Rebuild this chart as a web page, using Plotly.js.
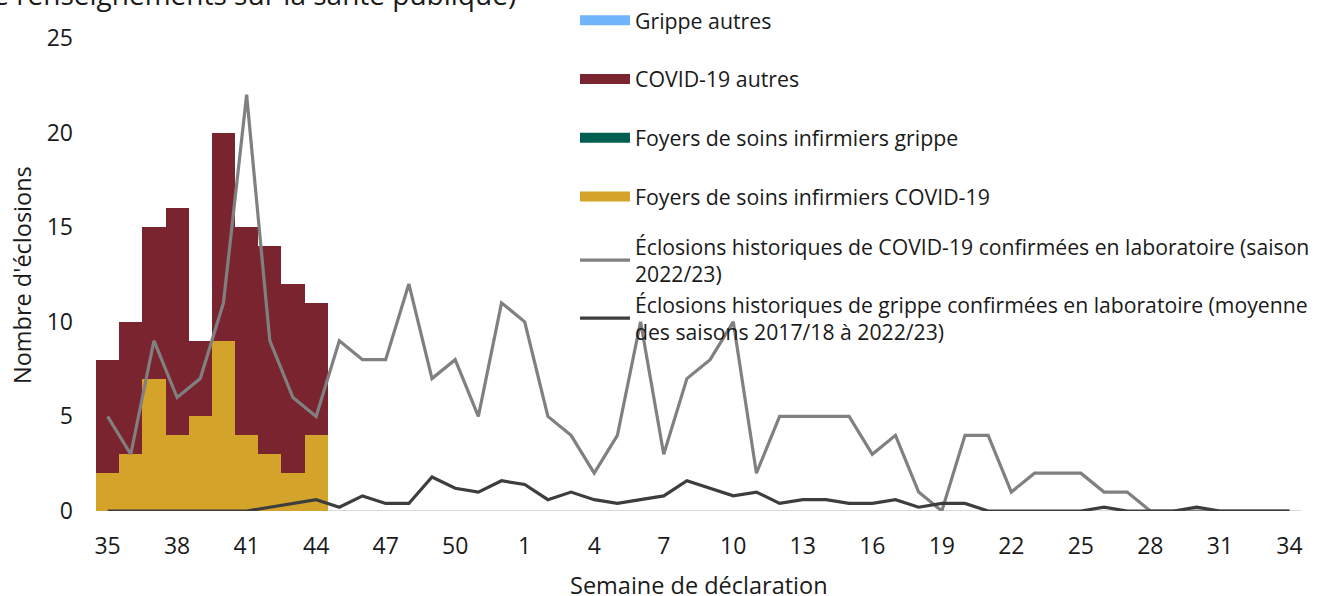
<!DOCTYPE html>
<html>
<head>
<meta charset="utf-8">
<script src="https://cdn.plot.ly/plotly-3.0.1.min.js"></script>
<style>html,body{margin:0;padding:0;background:#fff;}#chart{width:1318px;height:596px;}</style>
</head>
<body>
<div id="chart"></div>
<script>
// Weeks of report (35..52 then 1..34)
const weeks = ["35","36","37","38","39","40","41","42","43","44","45","46","47","48","49","50","51","52",
  "1","2","3","4","5","6","7","8","9","10","11","12","13","14","15","16","17","18","19","20","21","22",
  "23","24","25","26","27","28","29","30","31","32","33","34"];
const barWeeks = ["35","36","37","38","39","40","41","42","43","44"];
const tickWeeks = ["35","38","41","44","47","50","1","4","7","10","13","16","19","22","25","28","31","34"];

const nhCovid    = [2, 3, 7, 4, 5, 9, 4, 3, 2, 4];
const nhFlu      = [0, 0, 0, 0, 0, 0, 0, 0, 0, 0];
const covidOther = [6, 7, 8, 12, 4, 11, 11, 11, 10, 7];
const fluOther   = [0, 0, 0, 0, 0, 0, 0, 0, 0, 0];

const covidHist = [5, 3, 9, 6, 7, 11, 22, 9, 6, 5, 9, 8, 8, 12, 7, 8, 5, 11,
  10, 5, 4, 2, 4, 10, 3, 7, 8, 10, 2, 5, 5, 5, 5, 3, 4, 1, 0, 4, 4, 1,
  2, 2, 2, 1, 1, 0, 0, 0, 0, 0, 0, 0];
const fluHist = [0, 0, 0, 0, 0, 0, 0, 0.2, 0.4, 0.6, 0.2, 0.8, 0.4, 0.4, 1.8, 1.2, 1.0, 1.6,
  1.4, 0.6, 1.0, 0.6, 0.4, 0.6, 0.8, 1.6, 1.2, 0.8, 1.0, 0.4, 0.6, 0.6, 0.4, 0.4, 0.6, 0.2, 0.4, 0.4, 0,
  0, 0, 0, 0, 0.2, 0, 0, 0, 0.2, 0, 0, 0, 0];

const names = {
  fluOther: "Grippe autres",
  covidOther: "COVID-19 autres",
  nhFlu: "Foyers de soins infirmiers grippe",
  nhCovid: "Foyers de soins infirmiers COVID-19",
  covidHist: "Éclosions historiques de COVID-19 confirmées en laboratoire (saison<br>2022/23)",
  fluHist: "Éclosions historiques de grippe confirmées en laboratoire (moyenne<br>des saisons 2017/18 à 2022/23)"
};
const xTitle = "Semaine de déclaration";
const yTitle = "Nombre d'éclosions";
const topText = "de renseignements sur la santé publique)";
const colors = {fluOther:"#70B5FA", covidOther:"#7A2430", nhFlu:"#005F50", nhCovid:"#D4A32A", covidHist:"#808080", fluHist:"#3D3D3D"};

// bars (stack order bottom -> top), legend shown through wide swatch keys below
const barSeries = [["nhCovid", nhCovid, 4], ["nhFlu", nhFlu, 3], ["covidOther", covidOther, 2], ["fluOther", fluOther, 1]];
const traces = [];
barSeries.forEach(([k, vals]) => {
  traces.push({type:"bar", x:barWeeks, y:vals, name:names[k], marker:{color:colors[k]}, showlegend:false, legendgroup:k});
});
barSeries.forEach(([k, vals, rank]) => {
  traces.push({type:"scatter", mode:"lines", x:[null], y:[null], name:names[k], line:{color:colors[k], width:14},
    legendrank:rank, legendgroup:k, legend:"legend", hoverinfo:"skip"});
});
traces.push({type:"scatter", mode:"lines", x:weeks, y:covidHist, name:names.covidHist, line:{color:colors.covidHist, width:3.2}, legendrank:5, legendgroup:"e", legend:"legend2"});
traces.push({type:"scatter", mode:"lines", x:weeks, y:fluHist, name:names.fluHist, line:{color:colors.fluHist, width:3.2}, legendrank:6, legendgroup:"f", legend:"legend2"});

const font = {family:"'Open Sans', 'Noto Sans', sans-serif", color:"#1a1a1a"};

const layout = {
  width:1318, height:596,
  margin:{l:96, r:17, t:38, b:85, autoexpand:false},
  paper_bgcolor:"#fff", plot_bgcolor:"#fff",
  font:Object.assign({size:19}, font),
  barmode:"stack", bargap:0,
  showlegend:true,
  xaxis:{
    type:"category", categoryorder:"array", categoryarray:weeks,
    range:[-0.5, 51.5], automargin:false,
    tickmode:"array", tickvals:tickWeeks, ticktext:tickWeeks,
    ticks:"", showgrid:false, zeroline:false,
    showline:false,
    tickfont:Object.assign({size:23}, font),
    ticklabelstandoff:19
  },
  yaxis:{
    range:[0,25], tickvals:[0,5,10,15,20,25], automargin:false,
    showgrid:false, zeroline:false, showline:false, ticks:"",
    tickfont:Object.assign({size:23}, font),
    ticklabelstandoff:22
  },
  shapes:[{type:"line", xref:"paper", yref:"y", x0:0, x1:1, y0:0, y1:0, line:{color:"#D9D9D9", width:2}, layer:"below"}],
  legend:{
    xref:"container", yref:"container", x:575/1318, y:1-0/596, xanchor:"left", yanchor:"top",
    traceorder:"grouped", tracegroupgap:28, itemwidth:50, bgcolor:"rgba(0,0,0,0)",
    font:Object.assign({size:21.3}, font), itemclick:false
  },
  legend2:{
    xref:"container", yref:"container", x:575/1318, y:1-226/596, xanchor:"left", yanchor:"top",
    traceorder:"grouped", tracegroupgap:0, itemwidth:50, bgcolor:"rgba(0,0,0,0)",
    font:Object.assign({size:21.2}, font), itemclick:false
  },
  annotations:[
    {xref:"paper", yref:"paper", x:(518-96)/1205, y:1, yshift:23, xanchor:"right", yanchor:"bottom",
     text:topText, showarrow:false, font:Object.assign({size:28}, font)},
    {xref:"paper", yref:"paper", x:0.5, y:0, yshift:-74, xanchor:"center", yanchor:"middle",
     text:xTitle, showarrow:false, font:Object.assign({size:23.5}, font)},
    {xref:"paper", yref:"paper", x:0, xshift:-74, y:(511-275)/473, xanchor:"center", yanchor:"middle",
     text:yTitle, textangle:-90, showarrow:false, font:Object.assign({size:23.5}, font)}
  ]
};

Plotly.newPlot("chart", traces, layout, {displayModeBar:false, staticPlot:true});
</script>
</body>
</html>
